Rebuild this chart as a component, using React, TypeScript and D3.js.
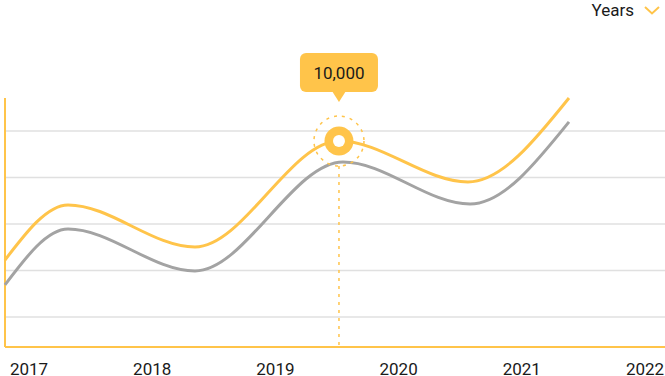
import React from "react";
import * as d3 from "d3";

const years = [2017, 2018, 2019, 2020, 2021, 2022];
const gridValues = [2000, 4000, 6000, 8000, 10000];
const seriesA = [
  { x: 2016.805, y: 4450 },
  { x: 2017.317, y: 6820 },
  { x: 2018.347, y: 5010 },
  { x: 2019.516, y: 9570 },
  { x: 2020.563, y: 7810 },
  { x: 2021.383, y: 11420 },
];
const seriesB = [
  { x: 2016.805, y: 3380 },
  { x: 2017.317, y: 5785 },
  { x: 2018.347, y: 3980 },
  { x: 2019.549, y: 8667 },
  { x: 2020.58, y: 6860 },
  { x: 2021.383, y: 10390 },
];
const highlight = { x: 2019.516, y: 9570, label: "10,000" };
const legendLabel = "Years";

const W = 665;
const H = 376;
const YELLOW = "#FFC44A";
const GRAY = "#A3A3A3";
const FONT = "Roboto, 'Noto Sans', sans-serif";

export default function App() {
  const x = d3.scaleLinear().domain([2017, 2022]).range([29, 645]);
  const y = d3.scaleLinear().domain([0, 2000]).range([363.5, 317]);
  const line = d3
    .line<{ x: number; y: number }>()
    .x((d) => x(d.x))
    .y((d) => y(d.y))
    .curve(d3.curveMonotoneX);

  const axisLeft = 5;
  const axisBottom = 347;
  const hx = x(highlight.x);
  const hy = y(highlight.y);

  return (
    <svg
      width={W}
      height={H}
      style={{ position: "absolute", left: 0, top: 0, display: "block" }}
      fontFamily={FONT}
    >
      {gridValues.map((v) => (
        <line
          key={v}
          x1={axisLeft}
          x2={W}
          y1={y(v)}
          y2={y(v)}
          stroke="#E0E0E0"
          strokeWidth={1.5}
        />
      ))}
      <line x1={axisLeft} x2={axisLeft} y1={98} y2={axisBottom} stroke={YELLOW} strokeWidth={2} />
      <line x1={axisLeft} x2={W} y1={axisBottom} y2={axisBottom} stroke={YELLOW} strokeWidth={2} />
      {years.map((yr) => (
        <text
          key={yr}
          x={x(yr)}
          y={375}
          textAnchor="middle"
          fontSize={17}
          fill="#1a1a1a"
        >
          {yr}
        </text>
      ))}
      <line
        x1={hx}
        x2={hx}
        y1={hy + 25}
        y2={axisBottom}
        stroke={YELLOW}
        strokeWidth={1.5}
        strokeDasharray="3 5"
      />
      <path d={line(seriesB) || ""} fill="none" stroke={GRAY} strokeWidth={3} />
      <path d={line(seriesA) || ""} fill="none" stroke={YELLOW} strokeWidth={3} />
      <circle cx={hx} cy={hy} r={25} fill="none" stroke={YELLOW} strokeWidth={1.5} strokeDasharray="3 5" />
      <circle cx={hx} cy={hy} r={14.5} fill={YELLOW} />
      <circle cx={hx} cy={hy} r={6} fill="#fff" />
      <rect x={hx - 39} y={53} width={78} height={39} rx={6} fill={YELLOW} />
      <path d={`M${hx - 7},91 L${hx},102 L${hx + 7},91 Z`} fill={YELLOW} />
      <text x={hx} y={79} textAnchor="middle" fontSize={17} fill="#1a1a1a">
        {highlight.label}
      </text>
      <text x={634} y={16} textAnchor="end" fontSize={17} fill="#1a1a1a">
        {legendLabel}
      </text>
      <polyline
        points="645,7 652,13.5 659,7"
        fill="none"
        stroke={YELLOW}
        strokeWidth={2}
      />
    </svg>
  );
}
